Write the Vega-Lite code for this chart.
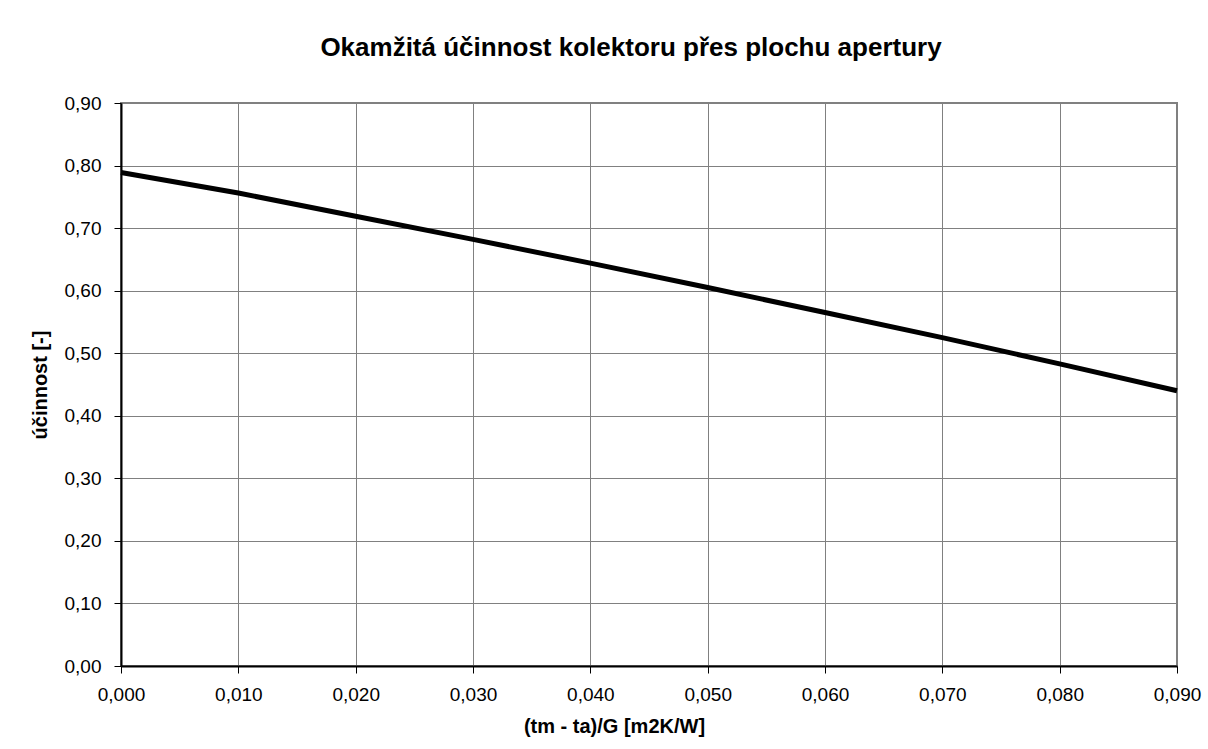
{
  "$schema": "https://vega.github.io/schema/vega-lite/v6.json",
  "autosize": {"type": "none"},
  "padding": {"left": 121, "top": 103, "right": 31, "bottom": 83},
  "width": 1056,
  "height": 563,
  "background": "white",
  "title": {
    "text": "Okamžitá účinnost kolektoru přes plochu apertury",
    "font": "Liberation Sans",
    "fontSize": 26,
    "fontWeight": "bold",
    "color": "black",
    "anchor": "middle",
    "dx": -18,
    "offset": 12,
    "baseline": "alphabetic"
  },
  "data": {
    "values": [
      {"x": 0.00, "eta": 0.789},
      {"x": 0.01, "eta": 0.756},
      {"x": 0.02, "eta": 0.719},
      {"x": 0.03, "eta": 0.682},
      {"x": 0.04, "eta": 0.644},
      {"x": 0.05, "eta": 0.605},
      {"x": 0.06, "eta": 0.565},
      {"x": 0.07, "eta": 0.525},
      {"x": 0.08, "eta": 0.483},
      {"x": 0.09, "eta": 0.440}
    ]
  },
  "mark": {"type": "line", "color": "black", "strokeWidth": 5, "strokeCap": "butt"},
  "encoding": {
    "x": {
      "field": "x",
      "type": "quantitative",
      "scale": {"domain": [0, 0.09], "nice": false, "zero": false},
      "axis": {
        "values": [0, 0.01, 0.02, 0.03, 0.04, 0.05, 0.06, 0.07, 0.08, 0.09],
        "labelExpr": "replace(format(datum.value, '.3f'), '.', ',')",
        "title": "(tm - ta)/G [m2K/W]",
        "titleX": 493,
        "titleY": 66,
        "titleAnchor": null,
        "titleAlign": "center",
        "titleBaseline": "alphabetic",
        "labelBaseline": "alphabetic",
        "labelPadding": 27
      }
    },
    "y": {
      "field": "eta",
      "type": "quantitative",
      "scale": {"domain": [0, 0.9], "nice": false},
      "axis": {
        "values": [0, 0.1, 0.2, 0.3, 0.4, 0.5, 0.6, 0.7, 0.8, 0.9],
        "labelExpr": "replace(format(datum.value, '.2f'), '.', ',')",
        "title": "účinnost [-]",
        "titleX": -81,
        "titleY": 281.5,
        "titleAngle": -90,
        "titleAlign": "center",
        "titleBaseline": "middle",
        "labelPadding": 13
      }
    }
  },
  "config": {
    "view": {"stroke": "#808080", "strokeWidth": 2},
    "axis": {
      "grid": true,
      "gridColor": "#808080",
      "gridWidth": 1,
      "gridOpacity": 1,
      "domainColor": "black",
      "domainWidth": 2,
      "tickColor": "black",
      "tickWidth": 1,
      "tickSize": 7,
      "labelFont": "Liberation Sans",
      "labelFontSize": 19,
      "labelColor": "black",
      "labelFlush": false,
      "labelOverlap": false,
      "titleFont": "Liberation Sans",
      "titleFontSize": 20,
      "titleFontWeight": "bold",
      "titleColor": "black"
    }
  }
}
